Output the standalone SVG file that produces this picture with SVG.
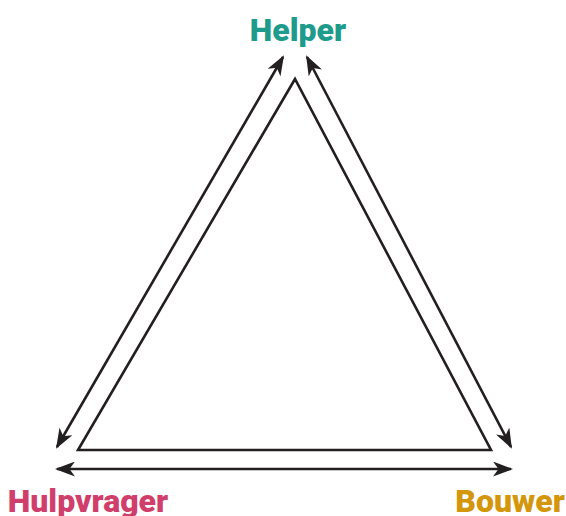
<svg xmlns="http://www.w3.org/2000/svg" width="566" height="516" viewBox="0 0 566 516">
<style>
.ln{stroke:#231f20;stroke-width:2.6;fill:none}
.arr{stroke:#231f20;stroke-width:2.6;fill:none;marker-start:url(#ah);marker-end:url(#ah)}
.lbl{font-family:Roboto,"Liberation Sans",sans-serif;font-weight:900;font-size:32px;text-anchor:middle}
</style>
<defs>
<marker id="ah" markerUnits="userSpaceOnUse" viewBox="0 0 20 15" refX="18" refY="7.5" markerWidth="20" markerHeight="15" orient="auto-start-reverse">
<path d="M0,0 L20,7.5 L0,15 L5.5,7.5 Z" fill="#231f20"/>
</marker>
</defs>
<rect width="566" height="516" fill="#ffffff"/>
<g id="connectors">
<polygon class="ln" points="295,79 78,450 491,450" stroke-linejoin="miter"/>
<line class="arr" x1="283" y1="57" x2="57" y2="447"/>
<line class="arr" x1="307" y1="57" x2="511" y2="447"/>
<line class="arr" x1="57" y1="469" x2="511" y2="469"/>
</g>
<g id="helper"><text class="lbl" x="298" y="41" fill="#1f9b8c">Helper</text></g>
<g id="hulpvrager"><text class="lbl" x="88" y="512" fill="#d03e6b">Hulpvrager</text></g>
<g id="bouwer"><text class="lbl" x="510" y="512" fill="#d4960b">Bouwer</text></g>
</svg>
